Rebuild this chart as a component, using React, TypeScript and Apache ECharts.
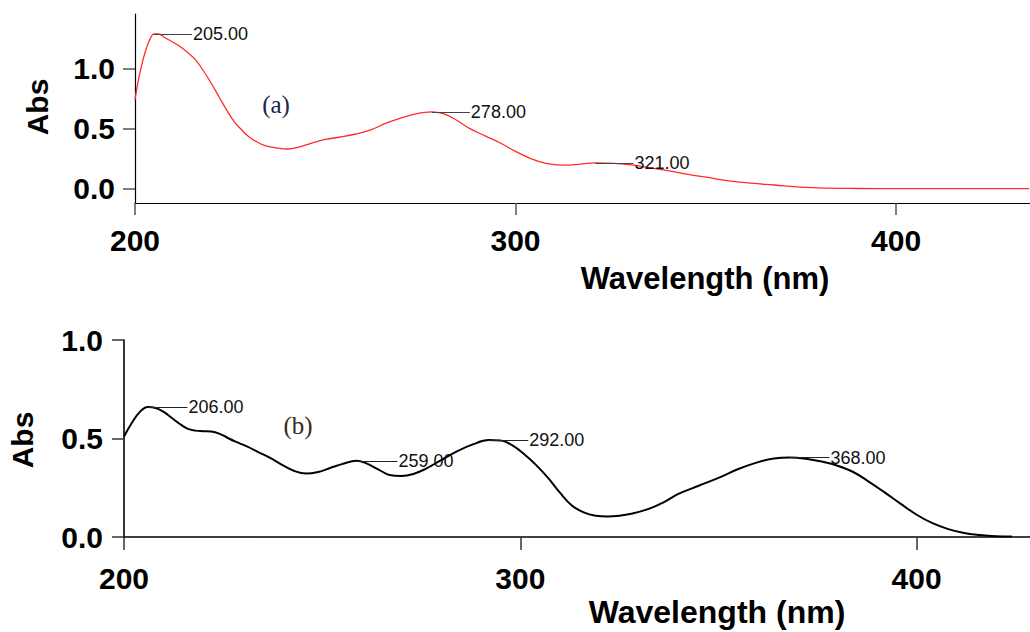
import React, { useEffect, useRef } from 'react';
import * as echarts from 'echarts';

// ---- data (a) ----
const wavelengthA = [200, 201, 202, 203, 204, 205, 206, 208, 210, 212, 214, 216, 218, 220, 222, 224, 226, 228, 230, 232, 234, 236, 238, 240, 243, 246, 250, 254, 258, 262, 266, 270, 274, 278, 281, 284, 288, 292, 296, 300, 304, 308, 312, 316, 321, 326, 331, 336, 340, 345, 350, 356, 362, 368, 375, 382, 390, 400, 435];
const absA = [0.74, 0.92, 1.06, 1.17, 1.25, 1.29, 1.29, 1.255, 1.22, 1.18, 1.13, 1.07, 0.98, 0.88, 0.77, 0.66, 0.56, 0.49, 0.43, 0.39, 0.36, 0.345, 0.335, 0.33, 0.345, 0.375, 0.41, 0.43, 0.455, 0.49, 0.545, 0.59, 0.625, 0.64, 0.625, 0.58, 0.5, 0.44, 0.38, 0.31, 0.25, 0.21, 0.195, 0.2, 0.215, 0.21, 0.195, 0.17, 0.15, 0.12, 0.095, 0.065, 0.045, 0.03, 0.012, 0.004, 0.001, 0, 0];
const peaksA = [205, 278, 321];
const peakAbsA = [1.29, 0.64, 0.215];

// ---- data (b) ----
const wavelengthB = [200, 202, 204, 206, 208, 210, 212, 214, 216, 218, 220, 222, 224, 226, 228, 231, 234, 237, 240, 243, 246, 249, 252, 255, 258.7, 261, 264, 267, 270, 273, 276, 280, 284, 288, 292, 295, 298, 301, 304, 307, 310, 313, 316, 319, 322, 325, 328, 332, 336, 340, 345, 350, 355, 360, 364, 368, 372, 376, 380, 384, 388, 392, 396, 400, 404, 408, 412, 416, 420, 424];
const absB = [0.51, 0.58, 0.635, 0.66, 0.655, 0.635, 0.605, 0.575, 0.55, 0.54, 0.537, 0.535, 0.525, 0.505, 0.485, 0.46, 0.43, 0.4, 0.365, 0.335, 0.322, 0.33, 0.35, 0.37, 0.387, 0.375, 0.345, 0.315, 0.31, 0.32, 0.345, 0.39, 0.435, 0.47, 0.492, 0.49, 0.465, 0.42, 0.365, 0.3, 0.225, 0.16, 0.125, 0.108, 0.104, 0.108, 0.118, 0.14, 0.175, 0.22, 0.26, 0.3, 0.345, 0.38, 0.398, 0.403, 0.397, 0.383, 0.362, 0.33, 0.28, 0.225, 0.168, 0.113, 0.07, 0.04, 0.02, 0.01, 0.004, 0.002];
const peaksB = [206, 259, 292, 368];
const peakAbsB = [0.66, 0.387, 0.493, 0.403];

// ---- ticks ----
const xTicks = [200, 300, 400];
const yTicks = [0, 0.5, 1.0];

const FONT = '"Liberation Sans", Arial, sans-serif';

function peakLines(xs: number[], ys: number[]) {
  return xs.map((x, i) => [
    { coord: [x, ys[i]], label: { formatter: x.toFixed(2) } },
    { coord: [x + 10, ys[i]] },
  ]);
}

export default function App() {
  const ref = useRef<HTMLDivElement>(null);
  useEffect(() => {
    if (!ref.current) return;
    const chart = echarts.init(ref.current, undefined, { renderer: 'svg' });
    const tickLabel = { fontFamily: FONT, fontWeight: 'bold', fontSize: 30, color: '#000', lineHeight: 30 };
    const markLabel = { show: true, position: 'end', distance: 1, fontFamily: FONT, fontSize: 18, color: '#111' };
    chart.setOption({
      animation: false,
      grid: [
        { left: 135, top: 14, width: 895, height: 189 },
        { left: 124, top: 340, width: 906, height: 197 },
      ],
      xAxis: [
        {
          type: 'value', gridIndex: 0, min: 200, max: 435.2,
          splitLine: { show: false },
          axisLine: { onZero: false, lineStyle: { color: '#000', width: 1.2 } },
          axisTick: { customValues: xTicks, length: 12, lineStyle: { color: '#555', width: 1.5 } },
          axisLabel: { customValues: xTicks, margin: 22, ...tickLabel },
        },
        {
          type: 'value', gridIndex: 1, min: 200, max: 428.6,
          splitLine: { show: false },
          axisLine: { onZero: false, lineStyle: { color: '#000', width: 1.6 } },
          axisTick: { customValues: xTicks, length: 13, lineStyle: { color: '#333', width: 1.5 } },
          axisLabel: { customValues: xTicks, margin: 26, ...tickLabel },
        },
      ],
      yAxis: [
        {
          type: 'value', gridIndex: 0, min: -0.12, max: 1.455,
          splitLine: { show: false },
          axisLine: { show: true, onZero: false, lineStyle: { color: '#000', width: 1.2 } },
          axisTick: { customValues: yTicks, length: 12, lineStyle: { color: '#555', width: 1.5 } },
          axisLabel: { customValues: yTicks, margin: 20, formatter: (v: number) => v.toFixed(1), ...tickLabel },
        },
        {
          type: 'value', gridIndex: 1, min: 0, max: 1,
          splitLine: { show: false },
          axisLine: { show: true, onZero: false, lineStyle: { color: '#000', width: 1.6 } },
          axisTick: { customValues: yTicks, length: 12, lineStyle: { color: '#333', width: 1.5 } },
          axisLabel: { customValues: yTicks, margin: 21, formatter: (v: number) => v.toFixed(1), ...tickLabel },
        },
      ],
      series: [
        {
          type: 'line', xAxisIndex: 0, yAxisIndex: 0, smooth: 0.4, showSymbol: false,
          lineStyle: { color: '#ff2a2a', width: 1.3 },
          data: wavelengthA.map((w, i) => [w, absA[i]]),
          markLine: {
            silent: true, symbol: 'none', animation: false,
            lineStyle: { color: '#444', width: 1, type: 'solid' },
            label: markLabel,
            data: peakLines(peaksA, peakAbsA),
          },
        },
        {
          type: 'line', xAxisIndex: 1, yAxisIndex: 1, smooth: 0.4, showSymbol: false,
          lineStyle: { color: '#000', width: 2 },
          data: wavelengthB.map((w, i) => [w, absB[i]]),
          markLine: {
            silent: true, symbol: 'none', animation: false,
            lineStyle: { color: '#222', width: 1, type: 'solid' },
            label: markLabel,
            data: peakLines(peaksB, peakAbsB),
          },
        },
      ],
      graphic: [
        { type: 'text', x: 705, y: 278, style: { text: 'Wavelength (nm)', font: `bold 31px ${FONT}`, fill: '#000', align: 'center', verticalAlign: 'middle' } },
        { type: 'text', x: 717, y: 612, style: { text: 'Wavelength (nm)', font: `bold 32px ${FONT}`, fill: '#000', align: 'center', verticalAlign: 'middle' } },
        { type: 'text', x: 37, y: 107, rotation: Math.PI / 2, style: { text: 'Abs', font: `bold 30px ${FONT}`, fill: '#000', align: 'center', verticalAlign: 'middle' } },
        { type: 'text', x: 22, y: 440, rotation: Math.PI / 2, style: { text: 'Abs', font: `bold 30px ${FONT}`, fill: '#000', align: 'center', verticalAlign: 'middle' } },
        { type: 'text', x: 276, y: 104, style: { text: '(a)', font: `25px "Liberation Serif", "Times New Roman", serif`, fill: '#1c2644', align: 'center', verticalAlign: 'middle' } },
        { type: 'text', x: 298, y: 425, style: { text: '(b)', font: `25px "Liberation Serif", "Times New Roman", serif`, fill: '#3a2a16', align: 'center', verticalAlign: 'middle' } },
      ],
    });
    return () => chart.dispose();
  }, []);
  return <div ref={ref} style={{ position: 'absolute', left: 0, top: 0, width: 1030, height: 632 }} />;
}
